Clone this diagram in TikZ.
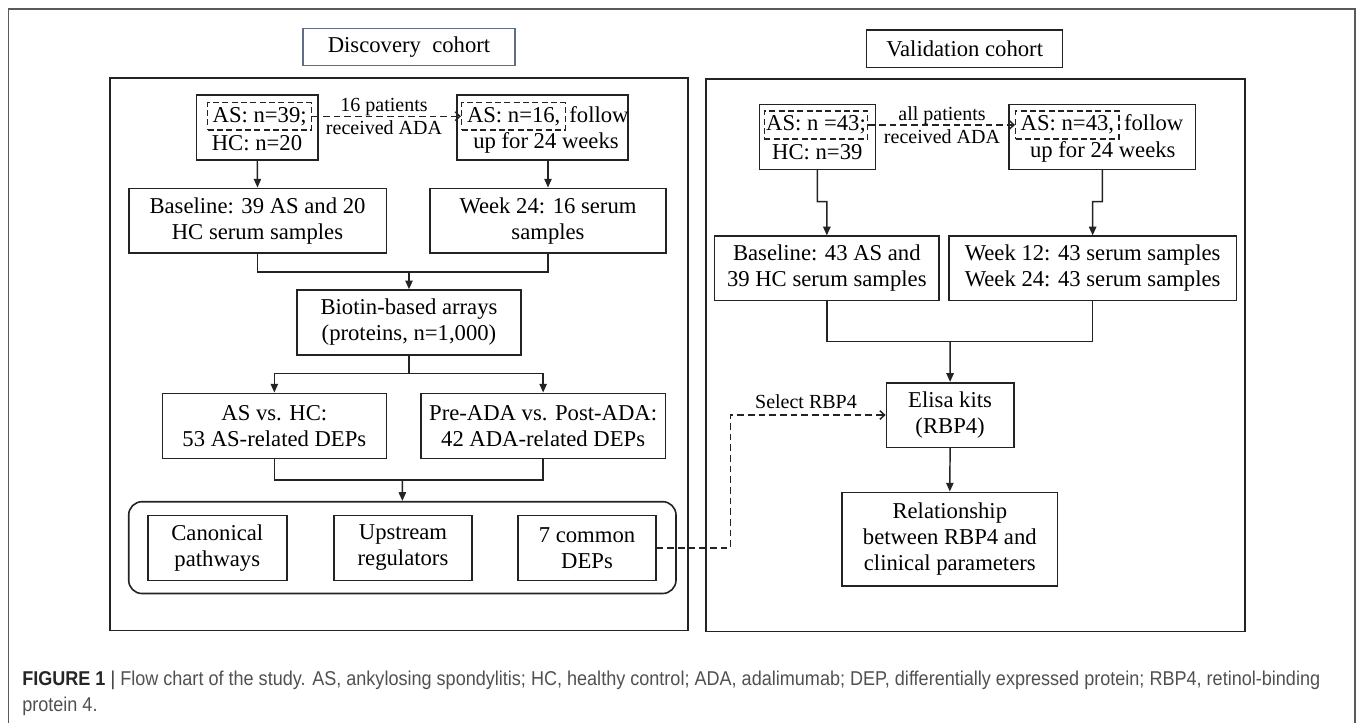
\documentclass[tikz,border=0pt]{standalone}
\usepackage{graphicx}
\usepackage{fontspec}
\setmainfont{Liberation Serif}
\newfontfamily\capfont{Liberation Sans}
\usetikzlibrary{arrows.meta}
\definecolor{lc}{RGB}{35,35,35}
\definecolor{tboxc}{RGB}{95,110,130}
\definecolor{capc}{RGB}{80,80,80}
\definecolor{framec}{RGB}{90,90,90}
\newsavebox\capbox
\newlength\caplen
% box from corner (x1,y1) to (x2,y2), in pixels of the reference
\newcommand\bx[7]{\node[box,#6,minimum width={(#4-#2)*0.75pt},minimum height={(#5-#3)*0.75pt}] (#1) at ({(#2+#4)/2},{(#3+#5)/2}) {#7};}
\begin{document}
\sbox\capbox{\capfont\fontsize{15}{18}\selectfont\color{capc}\textbf{\color{black!85}FIGURE 1} {\color{black!80}|} Flow chart of the study. AS, ankylosing spondylitis; HC, healthy control; ADA, adalimumab; DEP, differentially expressed protein; RBP4, retinol-binding}%
\setlength\caplen{\wd\capbox}%
\pgfmathsetmacro\capf{973.5/\caplen}%
\begin{tikzpicture}[x=0.75pt,y=-0.75pt,
  bodyfont/.style={font=\fontsize{17}{19.5}\selectfont},
  box/.style={draw=lc, line width=1.2pt, inner sep=0pt, align=center, bodyfont},
  dbox/.style={draw=lc, line width=1.1pt, dash pattern=on 4.5pt off 2.5pt, inner sep=0pt, bodyfont},
  txt/.style={inner sep=0pt, bodyfont},
  ln/.style={draw=lc, line width=1.1pt},
  arr/.style={ln, -{Triangle[length=6.5pt,width=5.5pt]}},
  darr/.style={ln, dash pattern=on 5pt off 3pt, -{Straight Barb[length=3.5pt,width=6.5pt]}},
  lbl/.style={font=\fontsize{15}{17.5}\selectfont, align=center, inner sep=0pt},
  panel/.style={line width=1.4pt},
  frame/.style={draw=framec, line width=1.1pt}
]
\useasboundingbox (0,0) rectangle (1357,722);
\draw[frame] (8.3,740) -- (8.3,9) -- (1355,9) -- (1355,740);

% ---------- panels and titles
\bx{pL}{110}{78.3}{688}{630.5}{panel}{}
\bx{pR}{705.7}{79}{1245.4}{631.5}{panel}{}
\bx{tD}{303}{28.3}{515}{65.7}{draw=tboxc, line width=0.8pt}{Discovery~ cohort}
\bx{tV}{866.5}{30}{1062.8}{67.3}{line width=0.8pt}{Validation cohort}

% ---------- discovery cohort
\bx{b1}{196.5}{95}{318}{160}{}{}
\node[dbox, minimum width=78pt, minimum height=20.5pt] (d1) at (259.7,116.3) {AS: n=39;};
\node[txt] (h1) at (257,143) {HC: n=20};

\bx{b2}{456.7}{95}{628}{160}{}{}
\node[dbox, minimum width=78pt, minimum height=20.5pt] (d2) at (513.7,116.3) {AS: n=16,};
\node[txt, anchor=base west] (f2) at ([xshift=2pt]d2.base east) {follow};
\node[txt] (u2) at (546,143) {up for 24 weeks};

\draw[darr] (d1.east) -- (d2.west);
\node[lbl] (l1) at (384,116.5) {16 patients\\received ADA};

\bx{base}{128.7}{188.3}{386.3}{253}{}{Baseline: 39 AS and 20\\HC serum samples}
\bx{wk}{430}{188.3}{666}{253}{}{Week 24: 16 serum\\samples}
\draw[arr] (b1.south) -- (base.north);
\draw[arr] (wk.north |- b2.south) -- (wk.north);

\bx{bio}{297}{290}{521}{355}{}{Biotin-based arrays\\(proteins, n=1,000)}
\coordinate (j1) at (409,272);
\draw[ln] (base.south) |- (j1) -| (wk.south);
\draw[arr] (j1) -- (bio.north);

\bx{asvs}{162.4}{393.3}{386.3}{458.3}{}{AS vs. HC:\\53 AS-related DEPs}
\bx{pre}{420.7}{393.3}{665.6}{458.3}{}{Pre-ADA vs. Post-ADA:\\42 ADA-related DEPs}
\coordinate (j2) at (409,373.3);
\draw[ln] (bio.south) -- (j2);
\draw[arr] (j2) -| (asvs.north);
\draw[arr] (j2) -| (pre.north);

\bx{grp}{128.7}{501.7}{676}{593.5}{rounded corners=10pt}{}
\bx{can}{147.8}{515.3}{286.8}{580.3}{}{Canonical\\pathways}
\bx{up}{334}{515.3}{472}{580.3}{}{Upstream\\regulators}
\bx{com}{518}{515.3}{656}{580.3}{}{7 common\\DEPs}
\coordinate (j3) at (402.3,480);
\draw[ln] (asvs.south) |- (j3) -| (pre.south);
\draw[arr] (j3) -- (grp.north);

% ---------- validation cohort
\bx{v1}{759.3}{104.3}{875.3}{169.3}{}{}
\node[dbox, minimum width=77.5pt, minimum height=21.2pt] (dv1) at (816,124.9) {AS: n =43;};
\node[txt] (hv1) at (817.3,151.7) {HC: n=39};

\bx{v2}{1009.2}{104.3}{1195.6}{169.3}{}{}
\node[dbox, minimum width=77.5pt, minimum height=21.2pt] (dv2) at (1067.4,124.9) {AS: n=43,};
\node[txt, anchor=base west] (fv2) at ([xshift=3pt]dv2.base east) {follow};
\node[txt] (uv2) at (1102.8,151.7) {up for 24 weeks};

\draw[darr] (dv1.east) -- (dv2.west);
\node[lbl] (l2) at (942,125) {all patients\\received ADA};

\bx{basev}{714.5}{236.2}{939.2}{300.5}{}{Baseline: 43 AS and\\39 HC serum samples}
\bx{wkv}{948.8}{236.2}{1236.5}{300.5}{}{Week 12: 43 serum samples\\Week 24: 43 serum samples}
\coordinate (ja) at (826.9,201.7);
\coordinate (jb) at (1092.6,201.7);
\draw[arr] (v1.south) |- (ja) -- (basev.north);
\draw[arr] (v2.south) |- (jb) -- (wkv.north);

\bx{eli}{886.4}{382.7}{1013.8}{447.3}{}{Elisa kits\\(RBP4)}
\coordinate (jc) at (950.1,341.7);
\draw[ln] (basev.south) |- (jc) -| (wkv.south);
\draw[arr] (jc) -- (eli.north);

\bx{rel}{842}{492.3}{1057.6}{585.7}{}{Relationship\\between RBP4 and\\clinical parameters}
\draw[arr] (eli.south) -- (rel.north);

\coordinate (jd) at (730.6,415);
\draw[darr] (com.east) -| (jd) -- (eli.west);
\node[lbl] (sel) at (806,401.7) {Select RBP4};

% ---------- caption
\node[anchor=west, inner sep=0pt] (cap1) at (22,680) {\scalebox{\capf}[1]{\usebox\capbox}};
\node[anchor=west, inner sep=0pt] (cap2) at (22,706.7) {\scalebox{\capf}[1]{\capfont\fontsize{15}{18}\selectfont\color{capc}protein 4.}};
\end{tikzpicture}
\end{document}
